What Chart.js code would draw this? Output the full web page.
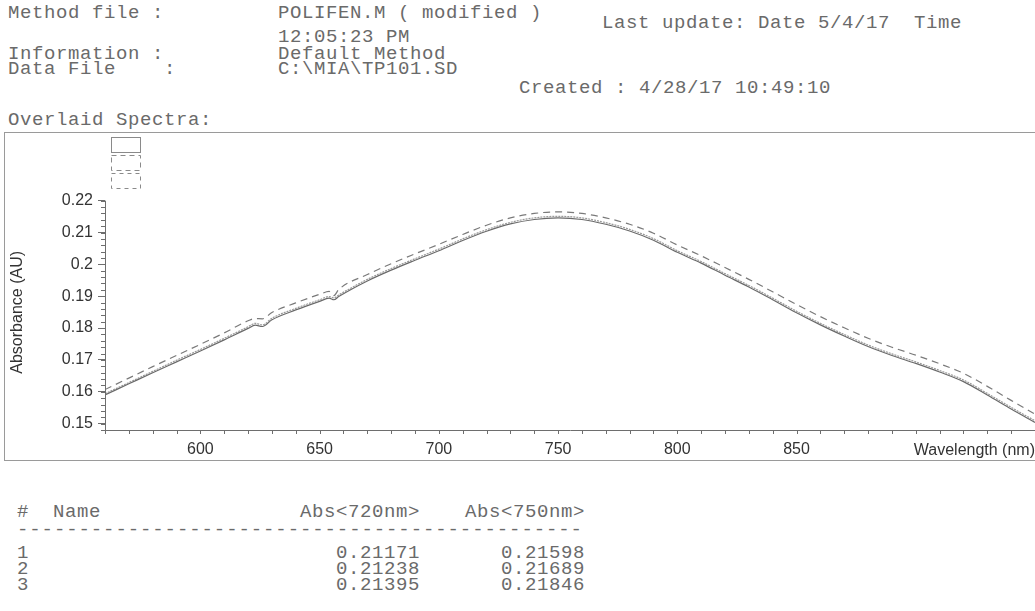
<!DOCTYPE html>
<html>
<head>
<meta charset="utf-8">
<script src="https://cdn.jsdelivr.net/npm/chart.js@4.4.1/dist/chart.umd.min.js"></script>
<style>
    body { margin: 0; width: 1035px; height: 611px; overflow: hidden; background: #fff; position: relative; }
    .t { position: absolute; font-family: "Liberation Mono", monospace; font-size: 19px; letter-spacing: 0.6px; white-space: pre; line-height: 20px; color: #6a6a6a; }
    #frame { position: absolute; left: 4px; top: 132px; width: 1050px; height: 327px; border: 1px solid #9a9a9a; }
    #chartBox { position: absolute; left: 5px; top: 133px; width: 1030px; height: 327px; }
    .r { text-align: right; }
</style>
</head>
<body>
<!-- report header -->
<div class="t" style="left:8px;top:3px">Method file :</div>
<div class="t" style="left:278px;top:3px">POLIFEN.M ( modified )</div>
<div class="t" style="left:602px;top:13px">Last update: Date 5/4/17  Time</div>
<div class="t" style="left:278px;top:27px">12:05:23 PM</div>
<div class="t" style="left:8px;top:44px">Information :</div>
<div class="t" style="left:278px;top:44px">Default Method</div>
<div class="t" style="left:8px;top:59px">Data File    :</div>
<div class="t" style="left:278px;top:59px">C:\MIA\TP101.SD</div>
<div class="t" style="left:519px;top:78px">Created : 4/28/17 10:49:10</div>
<div class="t" style="left:8px;top:110px">Overlaid Spectra:</div>

<div id="frame"></div>
<div id="chartBox"><canvas id="spectraChart" width="1030" height="327"></canvas></div>

<!-- results table -->
<div class="t" style="left:17px;top:502px">#  Name</div>
<div class="t r" style="left:290px;width:130px;top:502px">Abs&lt;720nm&gt;</div>
<div class="t r" style="left:455px;width:130px;top:502px">Abs&lt;750nm&gt;</div>
<div class="t" style="left:17px;top:520px;letter-spacing:0.9px">----------------------------------------------</div>
<div class="t" style="left:17px;top:543px">1</div>
<div class="t" style="left:17px;top:559px">2</div>
<div class="t" style="left:17px;top:575px">3</div>
<div class="t r" style="left:290px;width:130px;top:543px">0.21171</div>
<div class="t r" style="left:455px;width:130px;top:543px">0.21598</div>
<div class="t r" style="left:290px;width:130px;top:559px">0.21238</div>
<div class="t r" style="left:455px;width:130px;top:559px">0.21689</div>
<div class="t r" style="left:290px;width:130px;top:575px">0.21395</div>
<div class="t r" style="left:455px;width:130px;top:575px">0.21846</div>

<script>
// wavelength axis (nm)
const wavelengths = [560, 570, 580, 590, 600, 610, 620, 623, 626, 630, 640, 650, 654, 656, 658,
    670, 680, 690, 700, 710, 720, 730, 740, 750, 760, 770, 780, 790, 800, 810, 820,
    830, 840, 850, 860, 870, 880, 890, 900, 910, 920, 930, 940, 950];

// absorbance of the three overlaid spectra (AU)
const spectrum1 = [0.1590, 0.1625, 0.1660, 0.1694, 0.1728, 0.1763, 0.1799, 0.1809, 0.1805, 0.1826, 0.1857, 0.1884, 0.1894, 0.1889, 0.1899,
    0.1948, 0.1982, 0.2013, 0.2043, 0.2075, 0.2104, 0.2127, 0.2141, 0.2146, 0.2141, 0.2126, 0.2105, 0.2076, 0.2038, 0.2004, 0.1966,
    0.1929, 0.1889, 0.1848, 0.1810, 0.1775, 0.1742, 0.1714, 0.1689, 0.1662, 0.1632, 0.1590, 0.1546, 0.1504];
const spectrum2 = [0.1594, 0.1629, 0.1664, 0.1699, 0.1733, 0.1768, 0.1804, 0.1815, 0.1810, 0.1831, 0.1862, 0.1889, 0.1899, 0.1895, 0.1904,
    0.1953, 0.1987, 0.2018, 0.2048, 0.2080, 0.2109, 0.2132, 0.2146, 0.2151, 0.2146, 0.2131, 0.2110, 0.2081, 0.2043, 0.2009, 0.1971,
    0.1934, 0.1894, 0.1853, 0.1815, 0.1780, 0.1747, 0.1719, 0.1694, 0.1667, 0.1637, 0.1595, 0.1551, 0.1509];
const spectrum3 = [0.1607, 0.1643, 0.1679, 0.1714, 0.1749, 0.1785, 0.1823, 0.1830, 0.1829, 0.1849, 0.1879, 0.1906, 0.1915, 0.1902, 0.1921,
    0.1968, 0.2002, 0.2033, 0.2063, 0.2094, 0.2123, 0.2146, 0.2160, 0.2165, 0.2160, 0.2146, 0.2126, 0.2098, 0.2061, 0.2027, 0.1990,
    0.1953, 0.1914, 0.1874, 0.1836, 0.1801, 0.1768, 0.1740, 0.1715, 0.1688, 0.1658, 0.1617, 0.1573, 0.1530];

// tick labels
const xTicks = [600, 650, 700, 750, 800, 850, 900];
const yTicks = [0.15, 0.16, 0.17, 0.18, 0.19, 0.2, 0.21, 0.22];

const axisColor = '#6e6e6e';

// minor ticks, short y axis line, empty legend boxes and y title
const spectraDecor = {
    id: 'spectraDecor',
    afterDraw(chart) {
        const ctx = chart.ctx;
        const x = chart.scales.x, y = chart.scales.y;
        const area = chart.chartArea;
        ctx.save();
        ctx.strokeStyle = axisColor;
        ctx.lineWidth = 1;
        // y axis line from 0.22 down to the x axis
        ctx.beginPath();
        ctx.moveTo(area.left + 0.5, y.getPixelForValue(yTicks[yTicks.length - 1]));
        ctx.lineTo(area.left + 0.5, area.bottom);
        ctx.stroke();
        // minor y ticks
        ctx.beginPath();
        for (let v = 0.148; v <= 0.2201; v += 0.002) {
            const py = Math.round(y.getPixelForValue(v)) + 0.5;
            ctx.moveTo(area.left - 4, py);
            ctx.lineTo(area.left, py);
        }
        // minor x ticks
        for (let v = 560; v <= 950; v += 10) {
            const px = Math.round(x.getPixelForValue(v)) + 0.5;
            ctx.moveTo(px, area.bottom);
            ctx.lineTo(px, area.bottom + 4);
        }
        ctx.stroke();
        // legend boxes (no text)
        const dashes = [[], [5, 4], [4, 4]];
        ctx.strokeStyle = '#8a8a8a';
        dashes.forEach((d, i) => {
            ctx.setLineDash(d);
            ctx.strokeRect(area.left + 6.5, area.top + 0.5 + i * 18, 29, 15);
        });
        ctx.setLineDash([]);
        // y axis title
        ctx.fillStyle = '#333';
        ctx.font = '16px "Liberation Sans", Arial, sans-serif';
        ctx.textAlign = 'center';
        ctx.textBaseline = 'middle';
        ctx.translate(13, (y.getPixelForValue(0.22) + area.bottom) / 2 - 3);
        ctx.rotate(-Math.PI / 2);
        ctx.fillText('Absorbance (AU)', 0, 0);
        ctx.restore();
    }
};

const ctx = document.getElementById('spectraChart').getContext('2d');
new Chart(ctx, {
    type: 'line',
    data: {
        labels: wavelengths,
        datasets: [{
            label: '1',
            data: spectrum1,
            borderColor: '#6a6a6a',
            borderWidth: 1.2
        }, {
            label: '2',
            data: spectrum2,
            borderColor: '#9a9a9a',
            borderWidth: 1.2,
            borderDash: [2, 1]
        }, {
            label: '3',
            data: spectrum3,
            borderColor: '#7a7a7a',
            borderWidth: 1.2,
            borderDash: [7, 5]
        }]
    },
    options: {
        responsive: false,
        animation: false,
        layout: { padding: { top: 4 } },
        elements: {
            point: { radius: 0 },
            line: { cubicInterpolationMode: 'monotone', fill: false }
        },
        plugins: {
            legend: { display: false },
            tooltip: { enabled: false }
        },
        scales: {
            x: {
                type: 'linear',
                min: 560,
                max: 950,
                afterFit: s => { s.height = 30; s.paddingLeft = 0; s.paddingRight = 0; },
                afterBuildTicks: s => { s.ticks = xTicks.map(v => ({ value: v })); },
                grid: { display: false, drawOnChartArea: false, drawTicks: true, tickLength: 8, tickColor: axisColor },
                border: { display: true, color: axisColor },
                ticks: {
                    color: '#333',
                    padding: 2,
                    maxRotation: 0,
                    autoSkip: false,
                    font: { family: '"Liberation Sans", Arial, sans-serif', size: 16 },
                    callback: v => (v === 900 ? '' : v)
                },
                title: {
                    display: true,
                    text: 'Wavelength (nm)',
                    align: 'end',
                    color: '#333',
                    padding: { top: 0, bottom: 0 },
                    font: { family: '"Liberation Sans", Arial, sans-serif', size: 16 }
                }
            },
            y: {
                min: 0.148,
                max: 0.24,
                afterFit: s => { s.width = 100; s.paddingTop = 0; s.paddingBottom = 0; },
                afterBuildTicks: s => { s.ticks = yTicks.map(v => ({ value: v })); },
                grid: { drawOnChartArea: false, drawTicks: true, tickLength: 7, tickColor: axisColor },
                border: { display: false },
                ticks: {
                    color: '#333',
                    padding: 5,
                    font: { family: '"Liberation Sans", Arial, sans-serif', size: 16 },
                    callback: v => String(v)
                }
            }
        }
    },
    plugins: [spectraDecor]
});
</script>
</body>
</html>
